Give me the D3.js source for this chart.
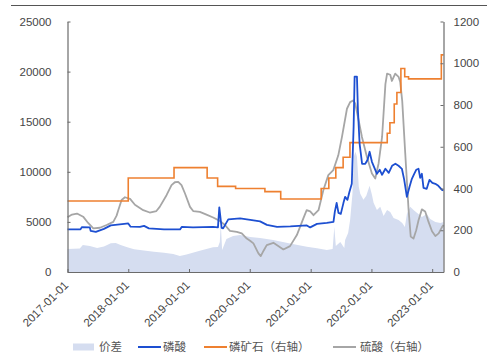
<!DOCTYPE html>
<html>
<head>
<meta charset="utf-8">
<script src="https://cdn.jsdelivr.net/npm/d3@7"></script>
<style>
  html, body { margin: 0; padding: 0; background: #fff; }
  svg { display: block; font-family: "Liberation Sans", Arial, sans-serif; }
</style>
</head>
<body>
<svg id="chart" width="487" height="356"></svg>
<script>
// 价差 (left axis, area)
const spread = [
  ["2017-01-01", 2300], ["2017-03-16", 2350], ["2017-04-03", 2700], ["2017-05-15", 2600],
  ["2017-06-28", 2400], ["2017-08-08", 2550], ["2017-09-18", 2860], ["2017-10-18", 2900],
  ["2017-11-16", 2700], ["2017-12-26", 2460], ["2018-02-05", 2260], ["2018-04-05", 2150],
  ["2018-06-04", 2030], ["2018-08-04", 1920], ["2018-09-28", 1790], ["2018-11-07", 1590],
  ["2018-12-17", 1750], ["2019-03-07", 2120], ["2019-05-25", 2460], ["2019-06-24", 2500],
  ["2019-07-05", 3000], ["2019-07-11", 4850], ["2019-07-19", 2200], ["2019-08-14", 3300],
  ["2019-09-23", 3600], ["2019-11-04", 3700], ["2020-01-03", 3500], ["2020-03-03", 3400],
  ["2020-05-21", 3200], ["2020-08-30", 2850], ["2020-12-09", 2520], ["2021-02-08", 2360],
  ["2021-04-08", 2190], ["2021-05-13", 2300], ["2021-05-23", 4500], ["2021-06-01", 2600],
  ["2021-06-28", 3000], ["2021-07-22", 2400], ["2021-07-27", 3200], ["2021-08-14", 3900],
  ["2021-08-26", 5200], ["2021-09-09", 7800], ["2021-09-17", 11500], ["2021-09-27", 12000],
  ["2021-10-06", 11500], ["2021-10-17", 8500], ["2021-10-26", 7800], ["2021-11-14", 7200],
  ["2021-12-01", 7600], ["2021-12-21", 8600], ["2022-01-04", 7700], ["2022-01-14", 6900],
  ["2022-02-03", 6200], ["2022-02-23", 6500], ["2022-03-15", 5600], ["2022-04-05", 6200],
  ["2022-04-24", 6000], ["2022-05-14", 5400], ["2022-06-13", 5200], ["2022-07-05", 4900],
  ["2022-07-21", 4500], ["2022-08-02", 5800], ["2022-08-22", 6500], ["2022-09-11", 6200],
  ["2022-10-10", 5800], ["2022-10-31", 5500], ["2022-11-30", 5800], ["2022-12-20", 5300],
  ["2023-01-20", 5000], ["2023-02-20", 4900], ["2023-03-10", 5000]
];

// 磷酸 (left axis)
const phosphoricAcid = [
  ["2017-01-01", 4250], ["2017-03-20", 4250], ["2017-03-28", 4480], ["2017-05-15", 4450],
  ["2017-05-20", 4110], ["2017-06-20", 4010], ["2017-08-08", 4300], ["2017-09-18", 4650],
  ["2017-12-08", 4800], ["2018-01-01", 4850], ["2018-01-15", 4520], ["2018-03-12", 4500],
  ["2018-04-06", 4600], ["2018-05-05", 4350], ["2018-08-04", 4250], ["2018-11-08", 4250],
  ["2018-11-18", 4500], ["2019-01-25", 4450], ["2019-05-25", 4500], ["2019-06-24", 4450],
  ["2019-07-02", 6450], ["2019-07-16", 4400], ["2019-07-25", 4350], ["2019-08-25", 5250],
  ["2019-11-04", 5350], ["2020-01-04", 5200], ["2020-03-03", 5050], ["2020-04-13", 4700],
  ["2020-06-13", 4500], ["2020-09-01", 4550], ["2020-12-09", 4650], ["2020-12-29", 4450],
  ["2021-02-08", 4800], ["2021-04-08", 4900], ["2021-05-18", 5000], ["2021-05-26", 6000],
  ["2021-06-06", 6900], ["2021-06-17", 5900], ["2021-07-01", 5800], ["2021-07-17", 6900],
  ["2021-07-27", 7500], ["2021-08-10", 7200], ["2021-08-22", 8000], ["2021-09-05", 8800],
  ["2021-09-16", 14500], ["2021-09-22", 19500], ["2021-10-06", 19500], ["2021-10-12", 16100],
  ["2021-10-22", 12800], ["2021-11-06", 10800], ["2021-11-25", 10800], ["2021-12-09", 11200],
  ["2021-12-21", 12000], ["2022-01-04", 11000], ["2022-01-14", 10600], ["2022-02-03", 9800],
  ["2022-02-20", 10200], ["2022-03-06", 9700], ["2022-03-26", 10300], ["2022-04-15", 9900],
  ["2022-05-05", 10600], ["2022-05-25", 10800], ["2022-06-13", 10600], ["2022-07-03", 10300],
  ["2022-07-17", 9200], ["2022-08-02", 7500], ["2022-08-18", 8500], ["2022-09-01", 9300],
  ["2022-09-15", 9800], ["2022-09-27", 10200], ["2022-10-11", 10300], ["2022-10-21", 9400],
  ["2022-10-31", 9800], ["2022-11-10", 8400], ["2022-11-29", 8300], ["2022-12-16", 9200],
  ["2023-01-02", 8900], ["2023-01-20", 8800], ["2023-02-07", 8600], ["2023-03-01", 8200],
  ["2023-03-10", 8150]
];

// 磷矿石 (right axis, stepped prices)
const phosphateRock = [
  ["2017-01-01", 340], ["2018-01-01", 450], ["2018-10-03", 500], ["2019-04-20", 450],
  ["2019-06-22", 410], ["2019-10-08", 400], ["2020-04-01", 385], ["2020-07-05", 350],
  ["2021-03-05", 400], ["2021-04-20", 450], ["2021-06-01", 500], ["2021-07-15", 550],
  ["2021-08-25", 620], ["2022-04-06", 665], ["2022-04-22", 715], ["2022-05-18", 805],
  ["2022-06-03", 860], ["2022-06-27", 975], ["2022-07-20", 935], ["2022-08-12", 925],
  ["2023-02-25", 1040], ["2023-03-10", 1040]
];

// 硫酸 (right axis)
const sulfuricAcid = [
  ["2017-01-01", 262], ["2017-01-28", 275], ["2017-02-27", 280], ["2017-04-05", 265],
  ["2017-05-05", 235], ["2017-06-05", 209], ["2017-07-15", 212], ["2017-08-24", 225],
  ["2017-10-03", 240], ["2017-10-23", 270], ["2017-11-02", 296], ["2017-11-22", 345],
  ["2017-12-12", 358], ["2018-01-12", 350], ["2018-02-10", 322], ["2018-04-01", 296],
  ["2018-05-10", 285], ["2018-06-19", 292], ["2018-07-09", 312], ["2018-08-19", 368],
  ["2018-09-18", 416], ["2018-10-08", 430], ["2018-10-28", 432], ["2018-11-17", 416],
  ["2018-12-08", 376], ["2019-01-07", 312], ["2019-01-26", 292], ["2019-03-07", 288],
  ["2019-04-16", 275], ["2019-05-26", 261], ["2019-07-05", 245], ["2019-08-05", 225],
  ["2019-09-04", 197], ["2019-10-15", 192], ["2019-11-14", 185], ["2019-12-14", 160],
  ["2020-01-03", 150], ["2020-01-23", 137], ["2020-02-22", 89], ["2020-03-07", 76],
  ["2020-03-24", 102], ["2020-04-12", 129], ["2020-05-22", 140], ["2020-06-20", 125],
  ["2020-07-21", 108], ["2020-08-30", 124], ["2020-10-10", 177], ["2020-11-18", 257],
  ["2020-12-08", 296], ["2020-12-29", 290], ["2021-01-18", 272], ["2021-02-17", 296],
  ["2021-03-18", 392], ["2021-04-17", 464], ["2021-05-17", 488], ["2021-06-16", 559],
  ["2021-07-08", 647], ["2021-08-07", 782], ["2021-08-26", 814], ["2021-09-15", 822],
  ["2021-09-26", 806], ["2021-10-16", 727], ["2021-11-05", 647], ["2021-12-05", 551],
  ["2022-01-04", 472], ["2022-01-24", 448], ["2022-02-13", 520], ["2022-03-06", 647],
  ["2022-03-26", 900], ["2022-04-05", 950], ["2022-04-24", 945], ["2022-05-04", 915],
  ["2022-05-24", 950], ["2022-06-13", 935], ["2022-06-23", 910], ["2022-07-05", 820],
  ["2022-07-23", 570], ["2022-08-12", 300], ["2022-08-25", 170], ["2022-09-11", 160],
  ["2022-09-27", 200], ["2022-10-11", 248], ["2022-10-31", 300], ["2022-11-20", 290],
  ["2022-12-10", 240], ["2022-12-31", 195], ["2023-01-20", 172], ["2023-02-09", 185],
  ["2023-03-01", 215], ["2023-03-10", 225]
];

const leftTicks = [0, 5000, 10000, 15000, 20000, 25000];
const rightTicks = [0, 200, 400, 600, 800, 1000, 1200];
const yearTicks = ["2017-01-01", "2018-01-01", "2019-01-01", "2020-01-01",
                   "2021-01-01", "2022-01-01", "2023-01-01"];
const legendLabels = ["价差", "磷酸", "磷矿石（右轴）", "硫酸（右轴）"];

const colors = {
  spread: "#d5ddf0",
  phosphoric: "#1d4fd1",
  rock: "#ee8030",
  sulfuric: "#a6a6a6",
  axis: "#6b6b6b",
  text: "#454545"
};

const parse = d3.timeParse("%Y-%m-%d");
const fmt = d3.timeFormat("%Y-%m-%d");
const toPts = arr => arr.map(([d, v]) => ({ date: parse(d), value: v }));

const spreadPts = toPts(spread);
const acidPts = toPts(phosphoricAcid);
const rockPts = toPts(phosphateRock);
const sulfPts = toPts(sulfuricAcid);

const plot = { left: 67.5, right: 443.5, top: 21.5, bottom: 272 };

const x = d3.scaleTime()
  .domain([parse("2017-01-01"), parse("2023-03-10")])
  .range([plot.left, plot.right]);
const yL = d3.scaleLinear().domain([0, 25000]).range([plot.bottom, plot.top]);
const yR = d3.scaleLinear().domain([0, 1200]).range([plot.bottom, plot.top]);

const svg = d3.select("#chart");

// rule across the top of the figure
svg.append("line")
  .attr("x1", 11).attr("x2", 487).attr("y1", 5.5).attr("y2", 5.5)
  .attr("stroke", "#555").attr("stroke-width", 1.2);

// spread area
svg.append("path")
  .datum(spreadPts)
  .attr("fill", colors.spread)
  .attr("d", d3.area().x(d => x(d.date)).y0(yL(0)).y1(d => yL(d.value)));

// sulfuric acid
svg.append("path")
  .datum(sulfPts)
  .attr("fill", "none").attr("stroke", colors.sulfuric).attr("stroke-width", 1.8)
  .attr("stroke-linejoin", "round")
  .attr("d", d3.line().x(d => x(d.date)).y(d => yR(d.value)));

// phosphate rock (step)
svg.append("path")
  .datum(rockPts)
  .attr("fill", "none").attr("stroke", colors.rock).attr("stroke-width", 1.6)
  .attr("d", d3.line().curve(d3.curveStepAfter).x(d => x(d.date)).y(d => yR(d.value)));

// phosphoric acid
svg.append("path")
  .datum(acidPts)
  .attr("fill", "none").attr("stroke", colors.phosphoric).attr("stroke-width", 1.8)
  .attr("stroke-linejoin", "round")
  .attr("d", d3.line().x(d => x(d.date)).y(d => yL(d.value)));

function styleAxis(g) {
  g.select(".domain").attr("stroke", colors.axis).attr("stroke-width", 1.2);
  g.selectAll(".tick line").attr("stroke", colors.axis).attr("stroke-width", 1);
  g.selectAll("text").attr("fill", colors.text).style("font-size", "11.5px")
    .style("font-family", "'Liberation Sans', Arial, sans-serif");
}

const numFmt = d3.format("d");

// left axis
svg.append("g")
  .attr("transform", `translate(${plot.left},0)`)
  .call(d3.axisLeft(yL).tickValues(leftTicks).tickFormat(numFmt)
    .tickSizeInner(-3).tickSizeOuter(0).tickPadding(16))
  .call(styleAxis);

// right axis
svg.append("g")
  .attr("transform", `translate(${plot.right},0)`)
  .call(d3.axisRight(yR).tickValues(rightTicks).tickFormat(numFmt)
    .tickSizeInner(-3).tickSizeOuter(0).tickPadding(10))
  .call(styleAxis);

// bottom axis
const xAxis = svg.append("g")
  .attr("transform", `translate(0,${plot.bottom})`)
  .call(d3.axisBottom(x).tickValues(yearTicks.map(parse)).tickFormat(fmt)
    .tickSizeInner(-3).tickSizeOuter(0).tickPadding(0))
  .call(styleAxis);
xAxis.selectAll(".tick text")
  .attr("text-anchor", "end")
  .attr("dy", "0")
  .attr("y", 0)
  .attr("transform", "translate(1,14) rotate(-45)");

// legend
const legend = svg.append("g").style("font-family", "'Noto Sans CJK SC', sans-serif");
const legendItems = [
  { label: legendLabels[0], type: "patch", color: colors.spread, x: 73, tx: 99 },
  { label: legendLabels[1], type: "line", color: colors.phosphoric, x: 138, tx: 163 },
  { label: legendLabels[2], type: "line", color: colors.rock, x: 204, tx: 229 },
  { label: legendLabels[3], type: "line", color: colors.sulfuric, x: 333, tx: 360 }
];
const ly = 347;
legendItems.forEach(it => {
  if (it.type === "patch") {
    legend.append("rect").attr("x", it.x).attr("y", ly - 3.5).attr("width", 21).attr("height", 7)
      .attr("fill", it.color);
  } else {
    legend.append("line").attr("x1", it.x).attr("x2", it.x + 23).attr("y1", ly).attr("y2", ly)
      .attr("stroke", it.color).attr("stroke-width", 2);
  }
  legend.append("text").attr("x", it.tx).attr("y", ly).attr("dy", "0.35em")
    .attr("fill", "#555").style("font-size", "11.5px").text(it.label);
});
</script>
</body>
</html>
